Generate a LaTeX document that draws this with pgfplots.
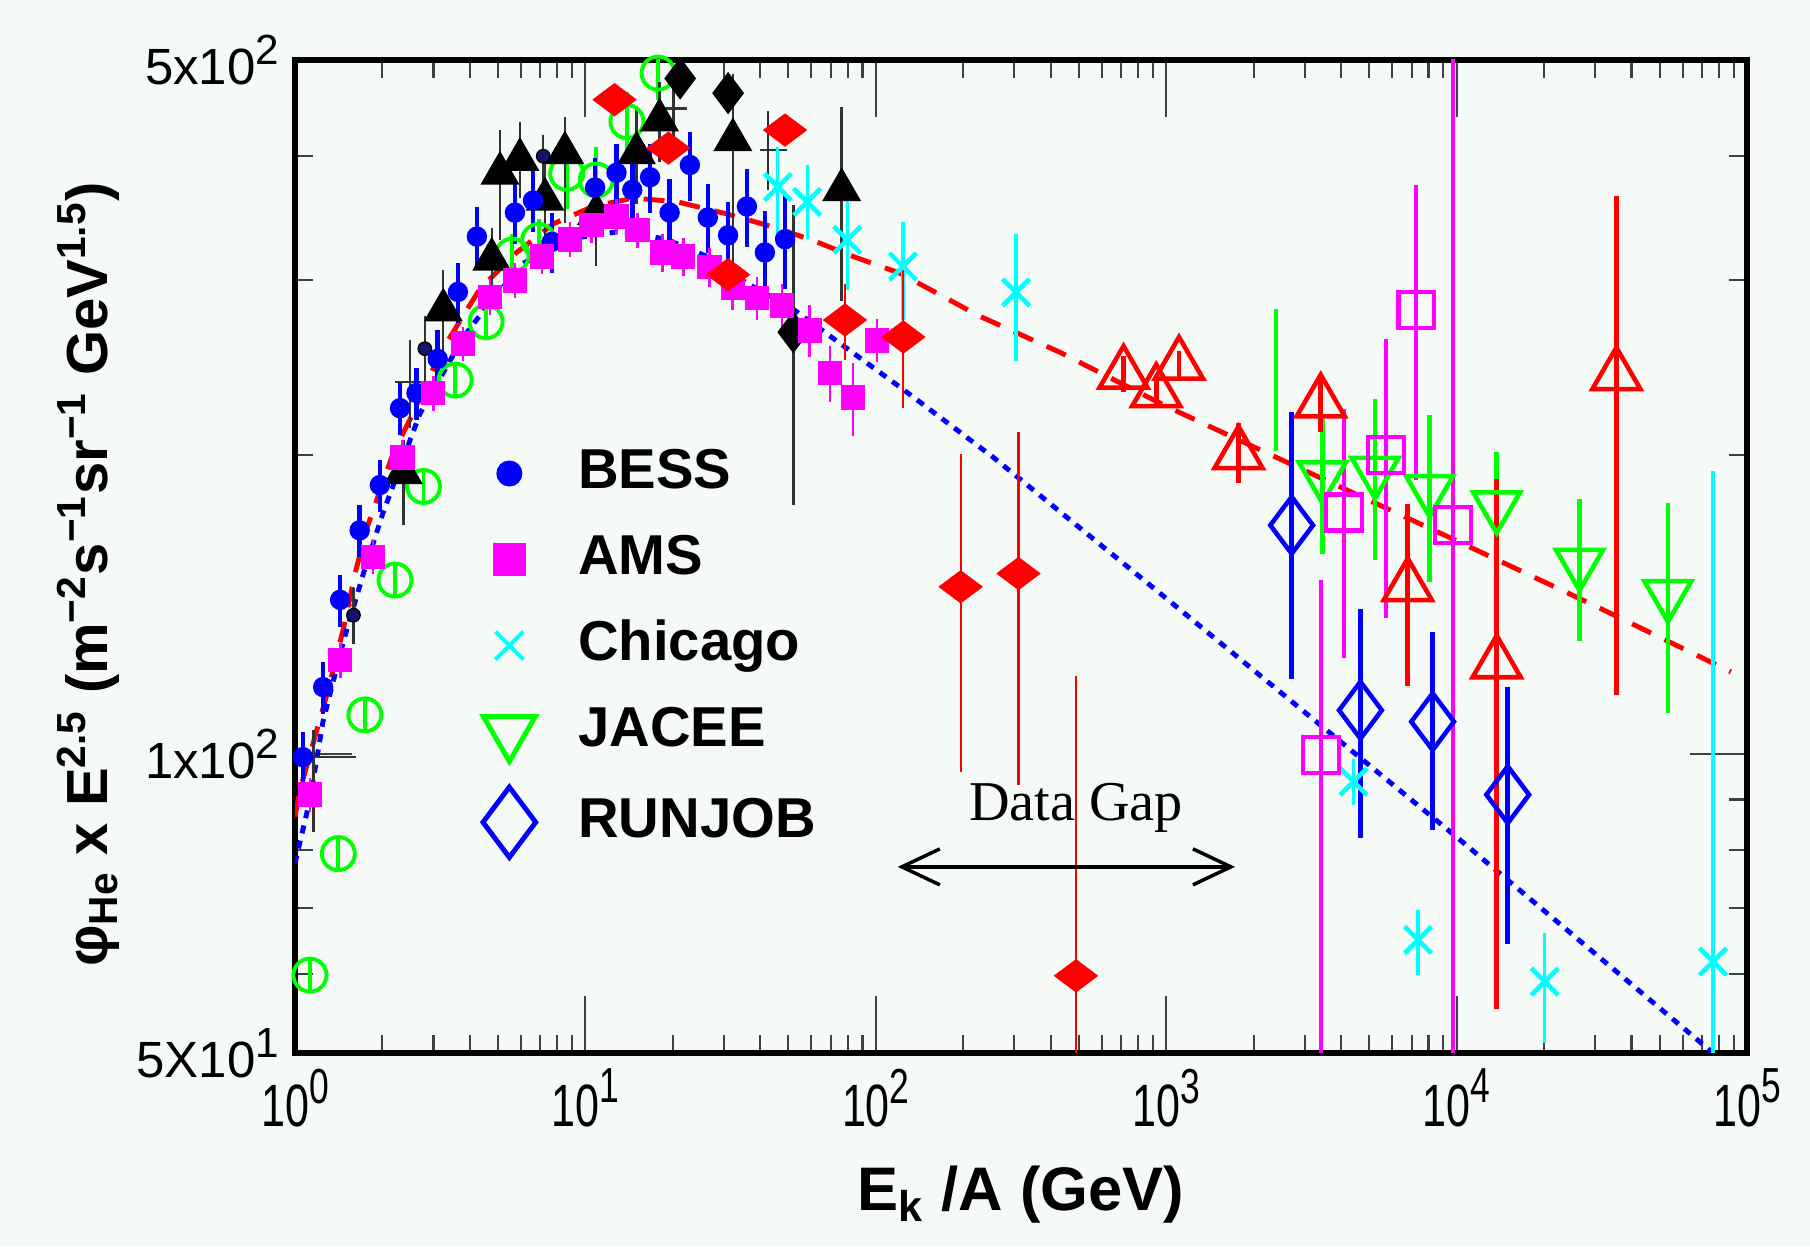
\documentclass[border=0pt]{standalone}
\usepackage{graphicx}
\usepackage{pgfplots}
\pgfplotsset{compat=1.18}
\usepackage{pgfplotstable}
\usepackage{fontspec}
\setmainfont{Liberation Sans}
\newfontfamily\seriffont{Liberation Serif}
\usetikzlibrary{arrows.meta}
\definecolor{bgc}{RGB}{245,250,247}
\definecolor{navy}{RGB}{20,20,110}
\definecolor{mag}{RGB}{255,0,255}
\definecolor{cyn}{RGB}{0,255,255}
\definecolor{grn}{RGB}{0,255,0}
\definecolor{rd}{RGB}{255,0,0}
\definecolor{bl}{RGB}{0,0,255}

\newcommand{\xtl}[1]{\scalebox{0.72}[1]{\fontsize{17}{17}\selectfont 10\raisebox{0.75ex}{\fontsize{14}{14}\selectfont #1}}}
\newcommand{\ytl}[2]{\fontsize{14.5}{14.5}\selectfont #1\raisebox{0.75ex}{\fontsize{12}{12}\selectfont #2}}

% BESS: x y relative error
\pgfplotstableread{
x y e
1.065 99.3 0.06
1.25 116.8 0.06
1.43 143 0.06
1.67 168 0.06
1.96 186.6 0.06
2.30 223 0.06
2.62 231 0.06
3.1 250 0.07
3.64 292 0.07
4.23 332 0.07
5.72 351 0.07
6.6 361 0.07
7.67 328 0.07
10.8 372 0.07
12.8 385 0.07
14.5 370 0.08
16.7 381 0.08
19.5 351 0.08
22.9 392 0.08
26.4 347 0.08
31 333 0.08
36 356 0.09
41.5 320 0.10
48.7 330 0.11
}\bess

% AMS
\pgfplotstableread{
x y e
1.126 91 0.04
1.43 124.4 0.04
1.856 158 0.04
2.35 199 0.04
2.99 231 0.04
3.79 259 0.04
4.69 288.6 0.04
5.72 300 0.04
7.09 317 0.04
8.85 330 0.04
10.5 341 0.04
12.8 348 0.04
15.1 337 0.04
18.4 320 0.045
21.7 317 0.045
26.8 309.5 0.045
32.2 295 0.05
39 288 0.05
47.5 283 0.05
59.3 267 0.06
69.5 242 0.065
83.4 228.5 0.085
101 261 0.05
}\ams

% Chicago
\pgfplotstableread{
x y ep em
46 372.5 36 43
58 359.8 32 30
79.8 329.5 38 36.5
124 309.8 34 36
304 291.7 42 43
4416 93.8 5 5
7363 65 4.7 5.1
20100 59 7.1 7.8
76400 61.8 131 30
}\chicago

% JACEE
\pgfplotstableread{
x y ep em
3452 190.6 26.8 31.4
5240 192.6 35.4 35.7
8070 184.6 35 35.6
13740 177.8 23.8 23.8
26500 155.6 25 25.6
53400 144.7 34.3 34.7
}\jacee

\pgfplotstableread{
x y ep em
2388 240 40.5 38
}\jaceebar

% RUNJOB
\pgfplotstableread{
x y ep em
2704 170 51 51
4665 110.7 29.2 28.4
8270 107.8 24.8 23.9
15000 91 25.9 26.6
}\runjob

% red open triangles
\pgfplotstableread{
x y ep em
713 241.5 10 10
924 231.4 8 8
1107 246.6 8 8
1775 200.4 15 13
3404 226 15 15
6790 147.6 31 30.6
13740 123.4 66 68
35500 240.7 124 126
}\redtri

% magenta open squares
\pgfplotstableread{
x y ep em
3420 99.8 50 70
4085 175.1 47.3 50.2
5700 200 62 63
7270 280 94.5 91
9724 170 400 140
}\magsq

% red filled diamonds
\pgfplotstableread{
x y ep em
12.6 456 0 0
19.3 407.6 0 0
31 304 0 0
48.7 425 0 0
78.3 273.6 24 24.5
124.4 263 47 40
196 147.4 53.3 51.5
310 152 59 59
489 59.8 60 25
}\reddia

% black filled triangles
\pgfplotstableread{
x y ep em
2.36 192 15 22
3.24 280 27 27
4.76 315 24 24
5.08 384.5 41 55
5.95 397 36 34
7.26 362 40 40
8.5 403 35 60
10.9 350 40 40
15 403 45 45
18 435 40 40
32.2 415.5 68 110
76.3 370 78 84
}\blktri

% black filled diamonds
\pgfplotstableread{
x y ep em
21.2 479 20 20
31 463 20 20
52 266 91 88
}\blkdia

% small dark circles
\pgfplotstableread{
x y ep em
1.59 138 9 9
2.8 256 20 20
7.16 400 20 40
}\blkcirc

% black crosses
\pgfplotstableread{
x y xp xm yp ym
1.156 99.3 0.47 0.18 6.5 15.8
2.49 237 0.34 0.28 24.5 24
20.1 447 2.2 2.7 40 40
42.5 406 6.8 2.6 38 36
}\blkcross

% green open circles
\pgfplotstableread{
x y e
1.126 59.9 0.04
1.41 79.4 0.04
1.74 109.5 0.04
2.21 149.7 0.04
2.77 186 0.04
3.56 238 0.04
4.55 272.5 0.04
5.6 318 0.05
6.9 329 0.05
8.62 384.5 0.08
10.9 378.5 0.08
13.9 433.5 0.07
17.8 485 0.06
}\grcirc

\begin{document}
\begin{tikzpicture}
\fill[bgc] (-2.95cm,-1.93cm) rectangle (15.15cm,10.53cm);
\path[use as bounding box] (-2.95cm,-1.93cm) rectangle (15.15cm,10.53cm);
\begin{axis}[
  at={(0,0)}, anchor=south west,
  scale only axis, width=14.52cm, height=9.93cm,
  xmode=log, ymode=log,
  xmin=1, xmax=1e5, ymin=50, ymax=500,
  axis line style={line width=1.5pt, black},
  xtick={1,10,100,1000,10000,100000},
  xticklabels={\xtl{0},\xtl{1},\xtl{2},\xtl{3},\xtl{4},\xtl{5}},
  minor xtick={2,3,4,5,6,7,8,9,20,30,40,50,60,70,80,90,200,300,400,500,600,700,800,900,2000,3000,4000,5000,6000,7000,8000,9000,20000,30000,40000,50000,60000,70000,80000,90000},
  ytick={50,100,500},
  yticklabels={\ytl{5X10}{1},\ytl{1x10}{2},\ytl{5x10}{2}},
  minor ytick={60,70,80,90,200,300,400},
  tick align=inside,
  major tick length=0.57cm, minor tick length=0.18cm,
  every tick/.style={line width=0.6pt, black!75},
  xticklabel style={yshift=-1pt},
  yticklabel style={xshift=-1pt},
  xlabel={E\textsubscript{k} /A (GeV)},
  ylabel={φ\textsubscript{He} x E\textsuperscript{2.5} (m\textsuperscript{−2}s\textsuperscript{−1}sr\textsuperscript{−1} GeV\textsuperscript{1.5})},
  every axis x label/.style={at={(axis description cs:0.5,-0.143)}, anchor=center, font=\fontsize{17.5}{17.5}\selectfont\bfseries},
  every axis y label/.style={at={(axis description cs:-0.142,0.482)}, anchor=center, rotate=90, font=\fontsize{16.5}{16.5}\selectfont\bfseries},
  axis background/.style={fill=bgc},
  legend style={at={(rel axis cs:0.129,0.615)}, anchor=north west, draw=none, fill=none,
    font=\fontsize{16}{16}\selectfont\bfseries, row sep=0.25cm, inner sep=0pt,
    nodes={inner sep=1pt, text height=0.42cm, text depth=0.12cm},
    /tikz/every odd column/.append style={column sep=0.39cm}},
  legend cell align=left,
]
% model curves
\addplot[forget plot, rd, line width=1.4pt, dash pattern=on 0.21cm off 0.15cm] coordinates {
(1,86.5)(1.04,92)(1.29,115)(1.47,134)(1.61,152)(1.77,169)(2.18,201)(2.62,224)(3.15,253)(4.33,294)(5.8,320)(7.76,342)(10.6,356)(14.6,363)(20.6,360)(30.6,350)(42,341)(59.3,330)(83.6,317)(121,305)(228,276)(429,254)(1000,224)(3000,193)(10000,164)(30000,141)(88000,121)};
\addplot[forget plot, bl, line width=1.4pt, dash pattern=on 0.08cm off 0.075cm] coordinates {
(1,77.6)(1.126,90)(1.25,108)(1.47,130)(1.72,152)(2.01,175)(2.69,220)(3.8,263)(4.69,285)(6.11,312)(8.62,330)(13.2,336)(19,330)(27.6,315)(35.9,298)(50.7,282)(124,233)(254,199)(1000,143.5)(10000,82.5)(76400,50)};

% unlabeled data sets
\addplot[forget plot, only marks, mark=o, grn, mark size=4.7pt, mark options={line width=1.1pt},
  error bars/.cd, y dir=both, y explicit relative, error mark=none, error bar style={line width=1.1pt, grn}]
  table[x=x, y=y, y error=e] {\grcirc};
\addplot[forget plot, draw=none, mark=none,
  error bars/.cd, x dir=both, x explicit, y dir=both, y explicit, error mark=none, error bar style={line width=0.7pt, black!80}]
  table[x=x, y=y, x error plus=xp, x error minus=xm, y error plus=yp, y error minus=ym] {\blkcross};
\addplot[forget plot, only marks, mark=triangle*, black, mark size=6pt,
  error bars/.cd, y dir=both, y explicit, error mark=none, error bar style={line width=0.7pt, black!80}]
  table[x=x, y=y, y error plus=ep, y error minus=em] {\blktri};
\addplot[forget plot, only marks, mark=diamond*, black, mark size=5.7pt,
  error bars/.cd, y dir=both, y explicit, error mark=none, error bar style={line width=0.7pt, black!80}]
  table[x=x, y=y, y error plus=ep, y error minus=em] {\blkdia};
\addplot[forget plot, only marks, mark=*, mark size=1.9pt, mark options={draw=black, fill=navy},
  error bars/.cd, y dir=both, y explicit, error mark=none, error bar style={line width=0.7pt, black!80}]
  table[x=x, y=y, y error plus=ep, y error minus=em] {\blkcirc};

% legend data sets
\addplot[forget plot, only marks, mark=*, bl, mark size=2.7pt,
  error bars/.cd, y dir=both, y explicit relative, error mark=none, error bar style={line width=1.3pt, bl}]
  table[x=x, y=y, y error=e] {\bess};
\addplot[forget plot, only marks, mark=square*, mag, mark size=3.3pt,
  error bars/.cd, y dir=both, y explicit relative, error mark=none, error bar style={line width=0.8pt, mag}]
  table[x=x, y=y, y error=e] {\ams};
\addplot[forget plot, only marks, mark=x, cyn, mark size=5.4pt, mark options={line width=1.3pt},
  error bars/.cd, y dir=both, y explicit, error mark=none, error bar style={line width=0.9pt, cyn}]
  table[x=x, y=y, y error plus=ep, y error minus=em] {\chicago};
\addplot[forget plot, only marks, mark=triangle, grn, mark size=7.7pt, mark options={rotate=180, line width=1.3pt},
  error bars/.cd, y dir=both, y explicit, error mark=none, error bar style={line width=1.3pt, grn}]
  table[x=x, y=y, y error plus=ep, y error minus=em] {\jacee};
\addplot[forget plot, only marks, mark=diamond, bl, mark size=8.1pt, mark options={line width=1.3pt},
  error bars/.cd, y dir=both, y explicit, error mark=none, error bar style={line width=1.3pt, bl}]
  table[x=x, y=y, y error plus=ep, y error minus=em] {\runjob};

\addplot[forget plot, draw=none, mark=none,
  error bars/.cd, y dir=both, y explicit, error mark=none, error bar style={line width=1.3pt, grn}]
  table[x=x, y=y, y error plus=ep, y error minus=em] {\jaceebar};
\addplot[forget plot, only marks, mark=square, mag, mark size=5.1pt, mark options={line width=1.2pt},
  error bars/.cd, y dir=both, y explicit, error mark=none, error bar style={line width=1.2pt, mag}]
  table[x=x, y=y, y error plus=ep, y error minus=em] {\magsq};
\addplot[forget plot, only marks, mark=triangle, rd, mark size=7.9pt, mark options={line width=1.3pt},
  error bars/.cd, y dir=both, y explicit, error mark=none, error bar style={line width=1.3pt, rd}]
  table[x=x, y=y, y error plus=ep, y error minus=em] {\redtri};
\addplot[forget plot, only marks, mark=diamond*, rd, mark size=6pt, mark options={rotate=90},
  error bars/.cd, y dir=both, y explicit, error mark=none, error bar style={line width=0.6pt, rd}]
  table[x=x, y=y, y error plus=ep, y error minus=em] {\reddia};

% legend
\addlegendimage{only marks, mark=*, bl, mark size=3.5pt}
\addlegendentry{BESS}
\addlegendimage{only marks, mark=square*, mag, mark size=4.4pt}
\addlegendentry{AMS}
\addlegendimage{only marks, mark=x, cyn, mark size=5.6pt, mark options={line width=1.1pt}}
\addlegendentry{Chicago}
\addlegendimage{only marks, mark=triangle, grn, mark size=8.5pt, mark options={rotate=180, line width=1.4pt}}
\addlegendentry{JACEE}
\addlegendimage{only marks, mark=diamond, bl, mark size=10pt, mark options={line width=1.4pt}}
\addlegendentry{RUNJOB}

% annotation
\draw[{Straight Barb[length=0.38cm,width=0.36cm]}-{Straight Barb[length=0.38cm,width=0.36cm]}, line width=1pt]
  (axis cs:119,77) -- (axis cs:1726,77);
\node[font=\seriffont\fontsize{16}{16}\selectfont] at (axis cs:489,88.3) {Data Gap};
\end{axis}
\end{tikzpicture}
\end{document}
